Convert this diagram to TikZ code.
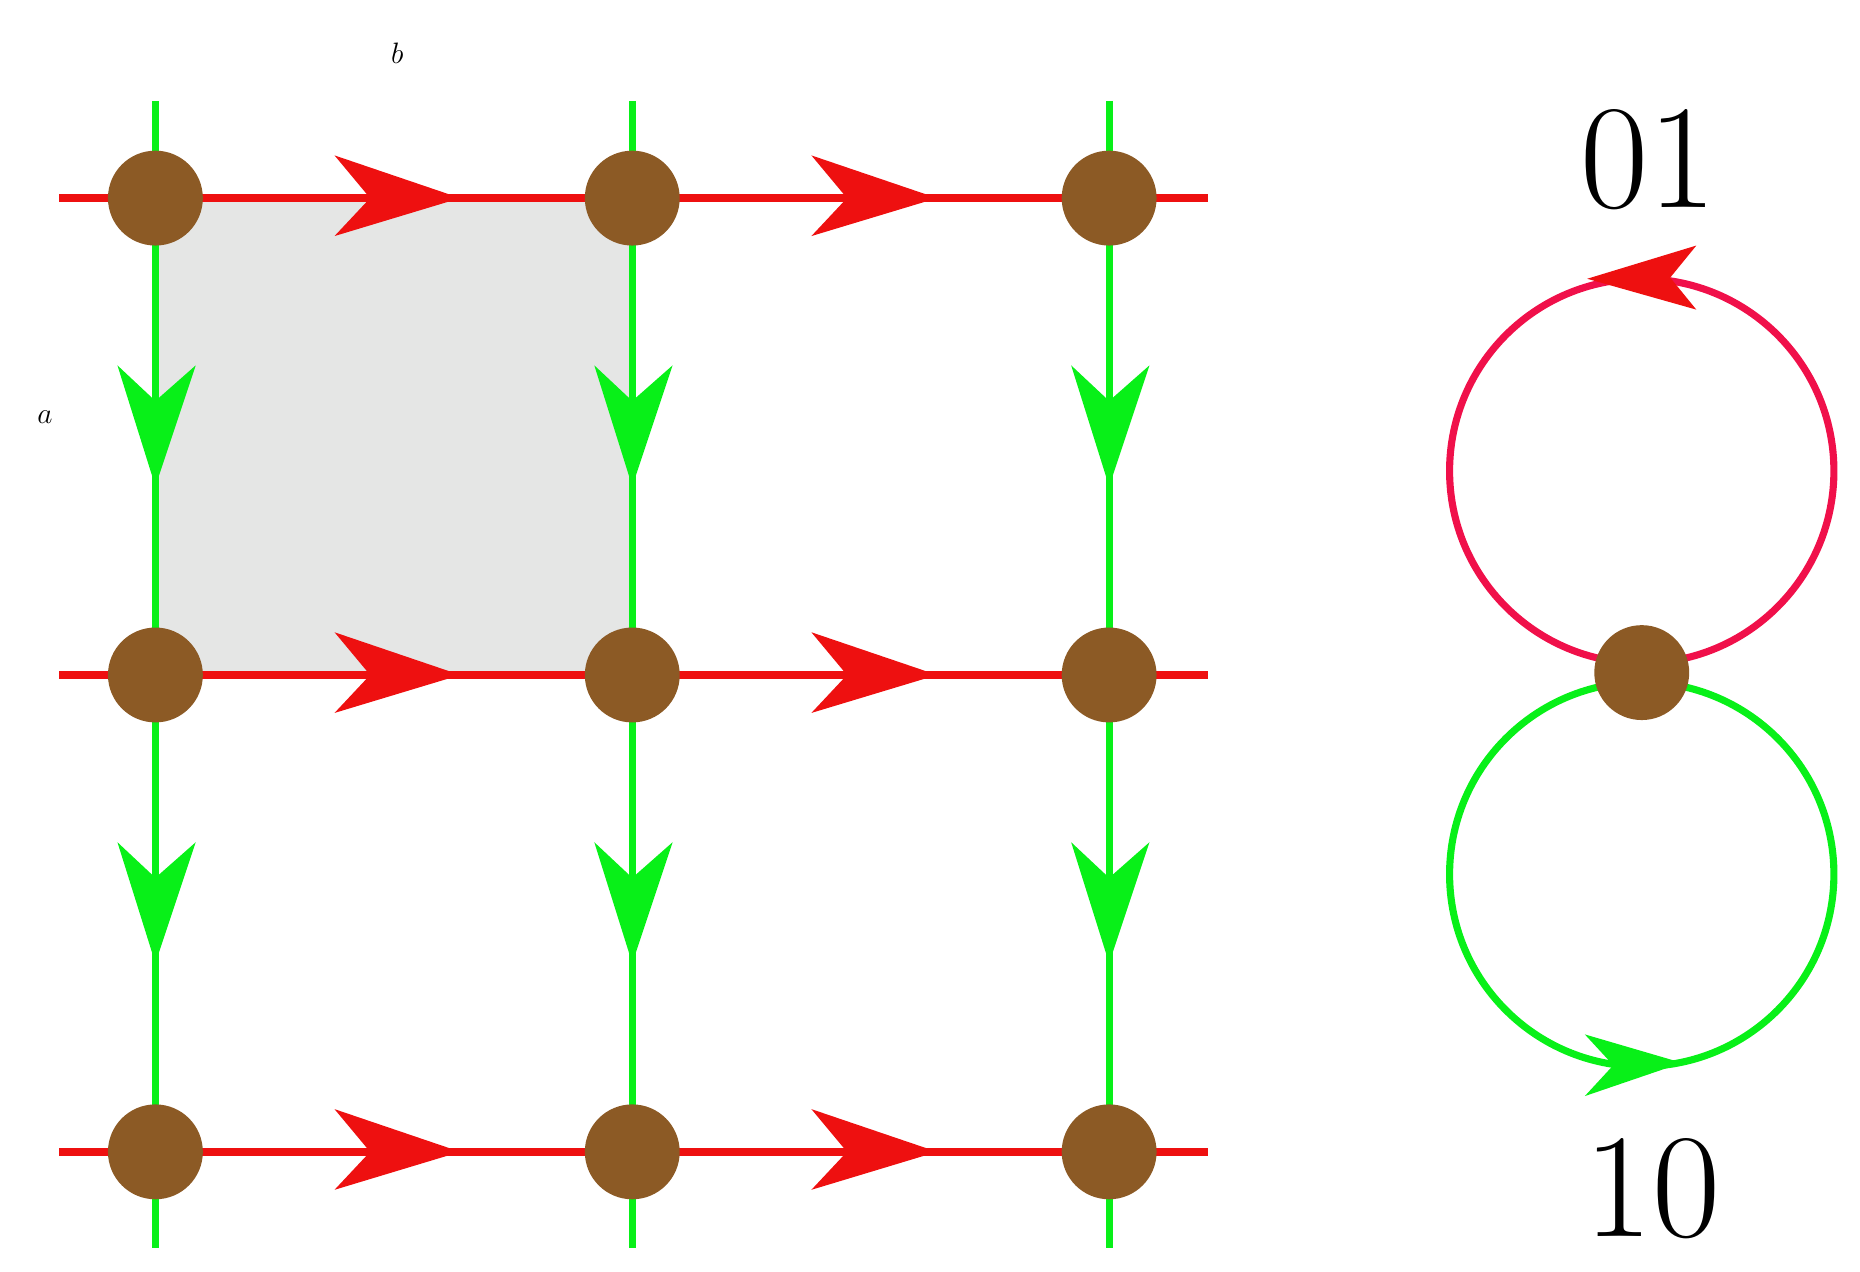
\documentclass[tikz,border=0pt]{standalone}
\begin{document}
\begin{tikzpicture}[x=1pt,y=-1pt,
  dot/.style={circle,fill=brown!80!black,fill=brown!70!black!90,inner sep=0,minimum size=80},
  rl/.style={draw=red!95!black,line width=7},
  gl/.style={draw=green!90!black,line width=6},
  rtip/.style={fill=red!95!black},
  gtip/.style={fill=green!90!black}]
\definecolor{nb}{HTML}{8C5A25}
\definecolor{rd}{HTML}{EE1010}
\definecolor{gr}{HTML}{08F018}
\definecolor{pk}{HTML}{F0104A}
\tikzset{dot/.style={circle,fill=nb,inner sep=0,minimum size=80},
 rl/.style={draw=rd,line width=7}, gl/.style={draw=gr,line width=6},
 rtip/.style={fill=rd}, gtip/.style={fill=gr}}
\useasboundingbox (0,0) rectangle (1568,1072);
\fill[gray!20!white,fill={rgb,255:red,229;green,230;blue,229}] (131,167) rectangle (533,569);
\foreach \i/\x in {1/131,2/533,3/935}{
  \coordinate (t\i) at (\x,85); \coordinate (b\i) at (\x,1052);
  \draw[gl] (t\i) -- (b\i);
  \foreach \y in {167,569}{
    \fill[gtip] (\x-32,\y+141) -- (\x,\y+171) -- (\x+34,\y+141) -- (\x,\y+243) -- cycle;}
}
\foreach \j/\y in {1/167,2/569,3/971}{
  \coordinate (l\j) at (50,\y); \coordinate (r\j) at (1018,\y);
  \draw[rl] (l\j) -- (r\j);
  \foreach \x in {282,684}{
    \fill[rtip] (\x,\y-36) -- (\x+30,\y) -- (\x,\y+32) -- (\x+106,\y) -- cycle;}
}
\foreach \i/\x in {1/131,2/533,3/935}{
  \foreach \j/\y in {1/167,2/569,3/971}{
    \node[dot] (n\i\j) at (\x,\y) {};}}
\draw[draw=pk,line width=6] (1384,397) circle (162);
\draw[gl] (1384,737) circle (162);
\fill[fill=rd] (1338,235) -- (1430,207) -- (1408,234) -- (1430,261) -- cycle;
\fill[gtip] (1418,896) -- (1336,872) -- (1360,898) -- (1336,924) -- cycle;
\node[dot] (c) at (1384,567) {};
\node (lb) at (335,45) {\fontsize{88}{88}\selectfont $b$};
\node (la) at (38,352) {\fontsize{88}{88}\selectfont $a$};
\node (l01) at (1390,135) {\fontsize{125}{125}\selectfont 01};
\node (l10) at (1393,1002) {\fontsize{125}{125}\selectfont 10};
\end{tikzpicture}
\end{document}
